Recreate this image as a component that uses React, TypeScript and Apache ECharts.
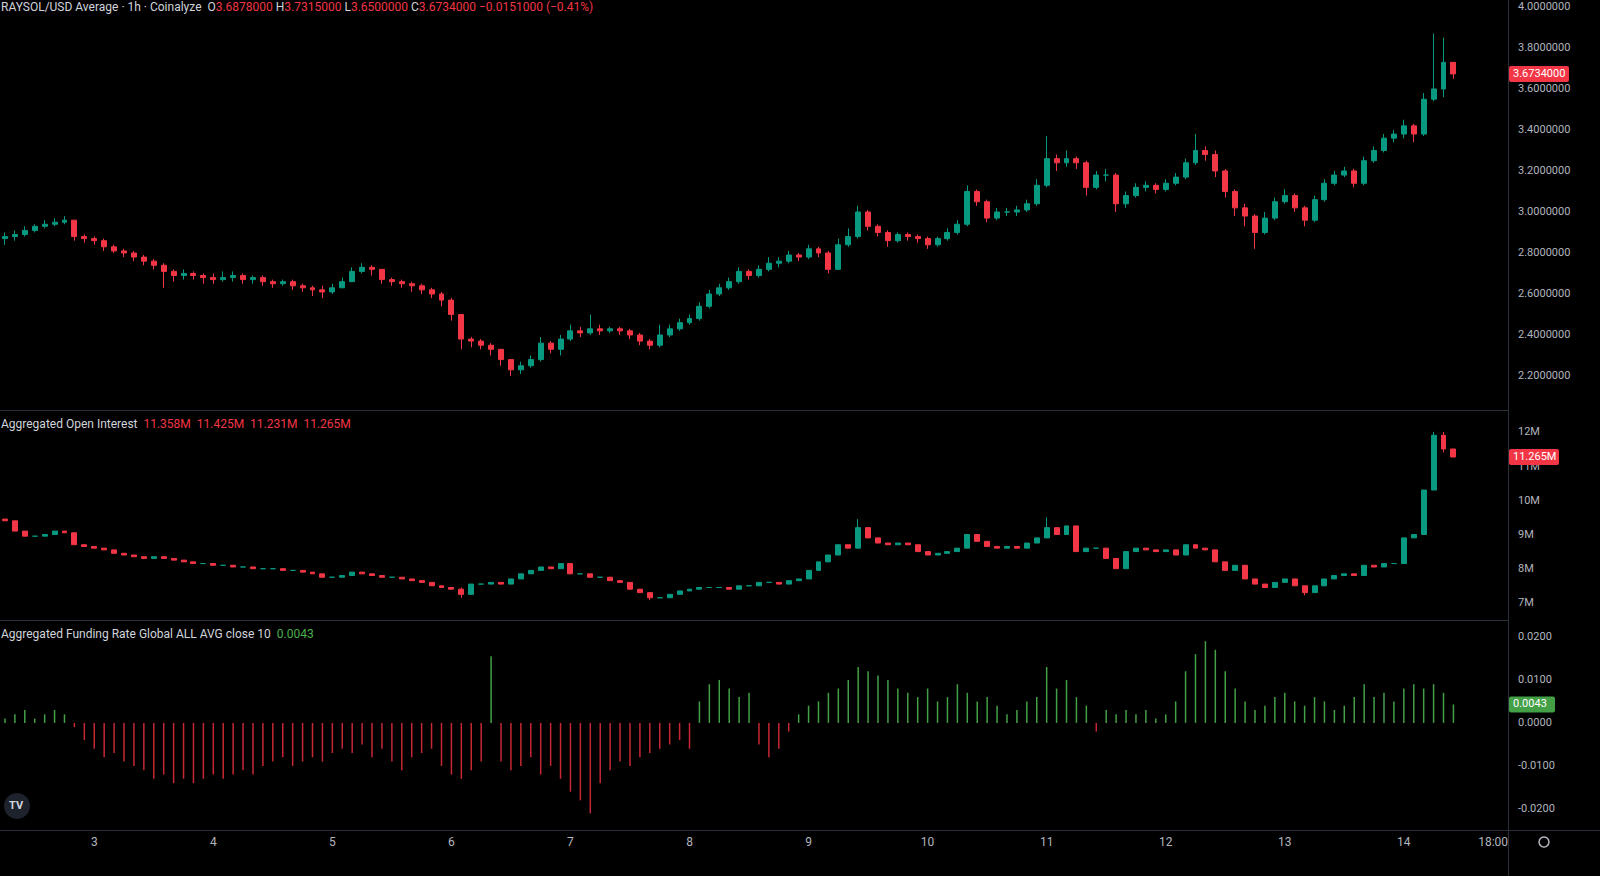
import { useEffect, useRef } from "react";
import * as echarts from "echarts";

// price candles, 2h: [close, low, high]; open is previous close
const priceFirstOpen = 2.87;
const priceCandles: number[][] = [
  [2.88, 2.84, 2.9], [2.89, 2.86, 2.91], [2.91, 2.88, 2.93], [2.93, 2.9, 2.94], [2.94, 2.92, 2.96],
  [2.95, 2.93, 2.97], [2.96, 2.94, 2.98], [2.88, 2.86, 2.96], [2.87, 2.85, 2.89], [2.86, 2.84, 2.88],
  [2.83, 2.81, 2.87], [2.81, 2.8, 2.84], [2.8, 2.78, 2.82], [2.78, 2.76, 2.81], [2.76, 2.74, 2.79],
  [2.74, 2.72, 2.77], [2.71, 2.63, 2.75], [2.69, 2.66, 2.72], [2.7, 2.67, 2.72], [2.69, 2.67, 2.71],
  [2.68, 2.65, 2.7], [2.67, 2.65, 2.7], [2.68, 2.66, 2.71], [2.69, 2.66, 2.71], [2.67, 2.65, 2.7],
  [2.68, 2.65, 2.69], [2.66, 2.64, 2.69], [2.65, 2.63, 2.67], [2.66, 2.64, 2.67], [2.64, 2.62, 2.67],
  [2.63, 2.61, 2.65], [2.62, 2.59, 2.64], [2.61, 2.58, 2.64], [2.63, 2.6, 2.65], [2.66, 2.63, 2.68],
  [2.71, 2.66, 2.73], [2.73, 2.7, 2.75], [2.72, 2.69, 2.74], [2.67, 2.65, 2.72], [2.66, 2.64, 2.68],
  [2.65, 2.63, 2.67], [2.64, 2.61, 2.66], [2.62, 2.6, 2.65], [2.6, 2.58, 2.63], [2.57, 2.54, 2.61],
  [2.5, 2.47, 2.58], [2.38, 2.33, 2.5], [2.37, 2.34, 2.39], [2.35, 2.33, 2.38], [2.33, 2.3, 2.36],
  [2.28, 2.25, 2.33], [2.23, 2.2, 2.28], [2.25, 2.21, 2.27], [2.28, 2.24, 2.3], [2.36, 2.27, 2.39],
  [2.33, 2.31, 2.37], [2.38, 2.3, 2.4], [2.42, 2.37, 2.45], [2.41, 2.39, 2.44], [2.43, 2.4, 2.5],
  [2.42, 2.4, 2.45], [2.43, 2.41, 2.44], [2.42, 2.4, 2.44], [2.4, 2.38, 2.43], [2.37, 2.35, 2.41],
  [2.35, 2.33, 2.38], [2.4, 2.34, 2.45], [2.43, 2.39, 2.45], [2.46, 2.42, 2.48], [2.48, 2.45, 2.5],
  [2.54, 2.47, 2.56], [2.6, 2.53, 2.62], [2.63, 2.59, 2.65], [2.66, 2.62, 2.68], [2.71, 2.65, 2.73],
  [2.69, 2.67, 2.72], [2.72, 2.68, 2.74], [2.75, 2.71, 2.78], [2.76, 2.73, 2.78], [2.79, 2.75, 2.81],
  [2.78, 2.76, 2.8], [2.82, 2.77, 2.84], [2.8, 2.78, 2.83], [2.72, 2.7, 2.81], [2.84, 2.72, 2.87],
  [2.88, 2.83, 2.92], [3.0, 2.87, 3.03], [2.93, 2.91, 3.01], [2.9, 2.88, 2.94], [2.86, 2.83, 2.91],
  [2.89, 2.85, 2.9], [2.88, 2.86, 2.9], [2.87, 2.85, 2.89], [2.84, 2.82, 2.88], [2.87, 2.83, 2.88],
  [2.9, 2.86, 2.92], [2.94, 2.89, 2.96], [3.1, 2.93, 3.13], [3.05, 3.03, 3.11], [2.97, 2.95, 3.06],
  [3.0, 2.96, 3.02], [3.0, 2.98, 3.02], [3.01, 2.98, 3.03], [3.04, 3.0, 3.06], [3.13, 3.03, 3.16],
  [3.26, 3.12, 3.37], [3.24, 3.2, 3.28], [3.26, 3.22, 3.3], [3.24, 3.21, 3.27], [3.12, 3.08, 3.25],
  [3.18, 3.11, 3.2], [3.18, 3.15, 3.21], [3.04, 3.0, 3.19], [3.08, 3.02, 3.1], [3.12, 3.07, 3.14],
  [3.13, 3.1, 3.15], [3.11, 3.09, 3.14], [3.14, 3.1, 3.16], [3.17, 3.13, 3.19], [3.24, 3.16, 3.26],
  [3.3, 3.23, 3.38], [3.28, 3.25, 3.32], [3.2, 3.17, 3.3], [3.1, 3.07, 3.21], [3.02, 2.98, 3.11],
  [2.98, 2.93, 3.04], [2.9, 2.82, 2.99], [2.97, 2.89, 3.0], [3.05, 2.96, 3.07], [3.08, 3.04, 3.11],
  [3.02, 3.0, 3.09], [2.96, 2.93, 3.03], [3.06, 2.95, 3.08], [3.14, 3.05, 3.16], [3.18, 3.13, 3.2],
  [3.2, 3.17, 3.22], [3.14, 3.12, 3.21], [3.25, 3.13, 3.27], [3.3, 3.24, 3.32], [3.36, 3.29, 3.38],
  [3.38, 3.34, 3.4], [3.42, 3.36, 3.45], [3.38, 3.34, 3.43], [3.55, 3.37, 3.58], [3.6, 3.54, 3.87],
  [3.73, 3.56, 3.85], [3.6734, 3.65, 3.7315],
];

// open interest closes (millions), open is previous close
const oiFirstOpen = 9.45;
const oiCloses = [
  9.4, 9.1, 8.95, 8.95, 9.0, 9.1, 9.05, 8.7, 8.65, 8.6, 8.55, 8.45, 8.4, 8.35, 8.3, 8.35, 8.3, 8.25, 8.2, 8.15,
  8.15, 8.1, 8.1, 8.05, 8.05, 8.0, 8.0, 8.0, 7.95, 7.95, 7.9, 7.85, 7.75, 7.75, 7.8, 7.9, 7.85, 7.8, 7.75, 7.75,
  7.7, 7.65, 7.6, 7.5, 7.45, 7.4, 7.25, 7.55, 7.55, 7.6, 7.55, 7.7, 7.85, 7.95, 8.05, 8.0, 8.15, 7.85, 7.85, 7.75,
  7.75, 7.65, 7.6, 7.4, 7.3, 7.15, 7.15, 7.25, 7.35, 7.4, 7.45, 7.45, 7.45, 7.4, 7.5, 7.5, 7.6, 7.6, 7.55, 7.65,
  7.7, 7.95, 8.2, 8.4, 8.7, 8.6, 9.2, 8.9, 8.75, 8.7, 8.75, 8.7, 8.5, 8.4, 8.45, 8.5, 8.6, 9.0, 8.8, 8.65,
  8.6, 8.65, 8.6, 8.75, 8.9, 9.2, 9.0, 9.25, 8.5, 8.6, 8.6, 8.3, 8.0, 8.5, 8.6, 8.55, 8.5, 8.55, 8.4, 8.7,
  8.6, 8.55, 8.2, 7.95, 8.1, 7.7, 7.55, 7.45, 7.6, 7.7, 7.5, 7.3, 7.5, 7.7, 7.8, 7.85, 7.8, 8.1, 8.05, 8.15,
  8.15, 8.9, 9.0, 10.3, 11.9, 11.5, 11.265,
];
// notable OI wicks: index -> [low, high]
const oiWicks: Record<number, number[]> = { 46: [7.15, 7.45], 65: [7.08, 7.3], 86: [8.6, 9.45], 105: [8.9, 9.5], 131: [7.22, 7.5], 144: [10.3, 12.0], 145: [11.4, 12.0] };

const fundingRates = [
  0.001, 0.002, 0.003, 0.001, 0.002, 0.003, 0.002,
  -0.001, -0.004, -0.006, -0.008, -0.007, -0.009,
  -0.01, -0.011, -0.013, -0.012, -0.014, -0.013, -0.014, -0.013, -0.012, -0.013, -0.012, -0.011, -0.012,
  -0.01, -0.009, -0.008, -0.01, -0.009, -0.008, -0.009, -0.007,
  -0.006, -0.007, -0.005, -0.008, -0.006, -0.009, -0.011, -0.008, -0.007, -0.006, -0.01,
  -0.012, -0.013, -0.011, -0.009, 0.0155,
  -0.009, -0.011, -0.01, -0.008, -0.012, -0.01, -0.013, -0.016,
  -0.018, -0.021, -0.014,
  -0.011, -0.009, -0.01, -0.008, -0.007, -0.006, -0.005, -0.004, -0.006,
  0.005, 0.009, 0.01, 0.008, 0.006, 0.007, -0.005,
  -0.008, -0.006, -0.002,
  0.002, 0.004, 0.005, 0.007, 0.008, 0.01,
  0.013, 0.012, 0.011, 0.01, 0.008,
  0.007, 0.006, 0.008, 0.005, 0.006, 0.009, 0.007, 0.005, 0.006, 0.004, 0.002, 0.003, 0.005, 0.006,
  0.013,
  0.008, 0.01, 0.006, 0.004, -0.002, 0.003,
  0.002, 0.003, 0.002, 0.003, 0.001, 0.002, 0.005,
  0.012, 0.016, 0.019, 0.017, 0.012,
  0.008, 0.005, 0.003, 0.004,
  0.006, 0.007, 0.005, 0.004, 0.006, 0.005, 0.003, 0.004, 0.006,
  0.009, 0.006, 0.007, 0.005, 0.008, 0.009, 0.008, 0.009, 0.007, 0.0043,
];

const priceTicks = [2.2, 2.4, 2.6, 2.8, 3.0, 3.2, 3.4, 3.6, 3.8, 4.0];
const oiTicks = [7, 8, 9, 10, 11, 12];
const fundingTicks = [-0.02, -0.01, 0, 0.01, 0.02];
const lastPrice = 3.6734;
const lastOi = 11.265;
const lastFunding = 0.0043;

// 2h slots starting Jan 2 06:00, a few empty ones at the right
const slotCount = 152;
const categories: string[] = [];
for (let i = 0; i < slotCount; i++) {
  const h = 6 + i * 2;
  const day = 2 + Math.floor(h / 24);
  categories.push(`${day} ${String(h % 24).padStart(2, "0")}:00`);
}

const UP = "#089981";
const DOWN = "#f23645";
const FUND_UP = "#43a047";
const TEXT = "#b2b5be";
const FONT = "Roboto, sans-serif";

export default function App() {
  const ref = useRef<HTMLDivElement>(null);

  useEffect(() => {
    if (!ref.current) return;
    document.body.style.margin = "0";
    document.body.style.overflow = "hidden";
    document.body.style.background = "#000";
    const chart = echarts.init(ref.current, undefined, { renderer: "svg" });

    let prev = priceFirstOpen;
    const priceData = priceCandles.map(([c, l, h]) => {
      const row = [prev, c, l, h];
      prev = c;
      return row;
    });
    let prevOi = oiFirstOpen;
    const oiData = oiCloses.map((c, i) => {
      const w = oiWicks[i];
      const row = [prevOi, c, w ? w[0] : Math.min(prevOi, c), w ? w[1] : Math.max(prevOi, c)];
      prevOi = c;
      return row;
    });

    const grids = [
      { left: 0, right: 92, top: 0, height: 410 },
      { left: 0, right: 92, top: 411, height: 209 },
      { left: 0, right: 92, top: 621, height: 209 },
    ];
    const xAxes = grids.map((_, i) => ({
      type: "category",
      gridIndex: i,
      data: categories,
      boundaryGap: true,
      axisLine: { show: false },
      axisTick: { show: false },
      axisLabel:
        i === 2
          ? {
              color: TEXT,
              fontSize: 12,
              fontFamily: FONT,
              margin: 6,
              interval: (_idx: number, v: string) => v.endsWith(" 00:00") || v === "14 18:00",
              formatter: (v: string) => (v === "14 18:00" ? "18:00" : v.split(" ")[0]),
            }
          : { show: false },
    }));
    const yLabel = { color: TEXT, fontSize: 11, fontFamily: FONT, margin: 10 };
    const hideLabel = (skip: number) => (v: number) => Math.abs(v - skip) < 0.35;
    const yAxes = [
      {
        gridIndex: 0, position: "right", min: 2.034, max: 4.034,
        axisLine: { show: false }, axisTick: { show: false }, splitLine: { show: false },
        axisLabel: { ...yLabel, customValues: priceTicks, formatter: (v: number) => v.toFixed(7) },
      },
      {
        gridIndex: 1, position: "right", min: 6.5, max: 12.61,
        axisLine: { show: false }, axisTick: { show: false }, splitLine: { show: false },
        axisLabel: { ...yLabel, customValues: oiTicks, formatter: (v: number) => `${Math.round(v)}M` },
      },
      {
        gridIndex: 2, position: "right", min: -0.0249, max: 0.0237,
        axisLine: { show: false }, axisTick: { show: false }, splitLine: { show: false },
        axisLabel: { ...yLabel, customValues: fundingTicks, formatter: (v: number) => v.toFixed(4) },
      },
    ];
    void hideLabel;

    const hdr = (x: number, y: number, rich: string) => ({
      type: "text",
      left: x,
      top: y,
      style: {
        text: rich,
        fontSize: 12,
        fontFamily: FONT,
        fill: "#d1d4dc",
        rich: {
          g: { fill: "#d1d4dc", fontSize: 12, fontFamily: FONT },
          r: { fill: DOWN, fontSize: 12, fontFamily: FONT },
          gr: { fill: "#4caf50", fontSize: 12, fontFamily: FONT },
        },
      },
    });
    const sep = (x1: number, y1: number, x2: number, y2: number) => ({
      type: "line",
      shape: { x1, y1, x2, y2 },
      style: { stroke: "#2a2e39", lineWidth: 1 },
      silent: true,
    });

    chart.setOption({
      animation: false,
      backgroundColor: "#000",
      grid: grids,
      xAxis: xAxes,
      yAxis: yAxes,
      series: [
        {
          type: "candlestick",
          xAxisIndex: 0,
          yAxisIndex: 0,
          data: priceData,
          barWidth: "55%",
          itemStyle: { color: UP, color0: DOWN, borderColor: UP, borderColor0: DOWN, borderWidth: 1 },
        },
        {
          type: "candlestick",
          xAxisIndex: 1,
          yAxisIndex: 1,
          data: oiData,
          barWidth: "55%",
          itemStyle: { color: UP, color0: DOWN, borderColor: UP, borderColor0: DOWN, borderWidth: 1 },
        },
        {
          type: "bar",
          xAxisIndex: 2,
          yAxisIndex: 2,
          barWidth: 1.5,
          data: fundingRates.map((v) => ({ value: v, itemStyle: { color: v >= 0 ? FUND_UP : "#c62833" } })),
        },
      ],
    });

    // last-value tags on the price scale
    const tag = (axis: number, value: number, text: string, color: string, w: number) => {
      const y = chart.convertToPixel({ yAxisIndex: axis }, value) as number;
      return [
        { type: "rect", shape: { x: 1509, y: y - 8, width: w, height: 16, r: 2 }, style: { fill: color }, z: 20 },
        { type: "text", x: 1513, y: y - 6, style: { text, fill: "#fff", fontSize: 11, fontFamily: FONT }, z: 21 },
      ];
    };

    chart.setOption({
      graphic: [
        sep(0, 410.5, 1508, 410.5),
        sep(0, 620.5, 1508, 620.5),
        sep(0, 830.5, 1600, 830.5),
        sep(1508.5, 0, 1508.5, 876),
        hdr(1, 1, "{g|RAYSOL/USD Average · 1h · Coinalyze  O}{r|3.6878000} {g|H}{r|3.7315000} {g|L}{r|3.6500000} {g|C}{r|3.6734000} {r|−0.0151000 (−0.41%)}"),
        hdr(1, 418, "{g|Aggregated Open Interest}  {r|11.358M  11.425M  11.231M  11.265M}"),
        hdr(1, 628, "{g|Aggregated Funding Rate Global ALL AVG close 10}  {gr|0.0043}"),
        ...tag(0, lastPrice, "3.6734000", DOWN, 60),
        ...tag(1, lastOi, "11.265M", DOWN, 50),
        ...tag(2, lastFunding, "0.0043", FUND_UP, 46),
        { type: "circle", shape: { cx: 17, cy: 806, r: 13 }, style: { fill: "#1e222d" } },
        { type: "text", x: 9, y: 800, style: { text: "TV", fill: "#d1d4dc", fontSize: 11, fontWeight: "bold", fontFamily: FONT } },
        { type: "circle", shape: { cx: 1544, cy: 842, r: 5 }, style: { fill: "none", stroke: TEXT, lineWidth: 1.5 } },
      ],
    });

    return () => chart.dispose();
  }, []);

  return <div ref={ref} style={{ width: "1600px", height: "876px" }} />;
}
